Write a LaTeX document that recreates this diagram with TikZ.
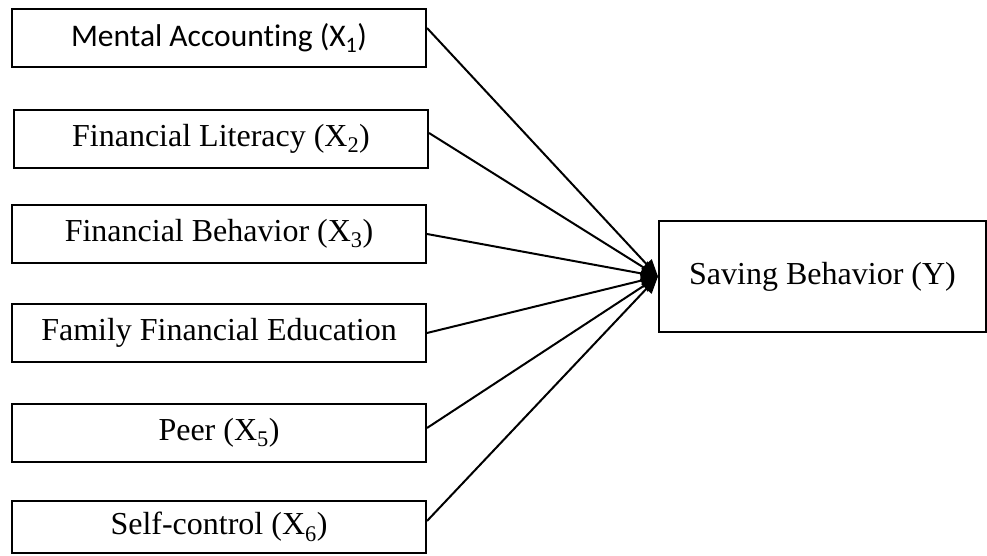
\documentclass[tikz,border=0pt]{standalone}
\usepackage{fontspec}
\setmainfont{Liberation Serif}
\newfontfamily\calib[Ligatures=NoCommon]{Carlito}
\usetikzlibrary{arrows.meta}
\begin{document}
\begin{tikzpicture}[x=1pt,y=1pt,
  box/.style={draw,line width=2pt,minimum width=414pt,minimum height=58pt,inner sep=0pt,font=\fontsize{32}{36}\selectfont},
  arr/.style={line width=2pt,-{Triangle[length=17pt,width=14pt]}}]
\useasboundingbox (0,0) rectangle (987,556);
\node[box] (b1) at (219,518) {\calib\fontsize{31.5}{36}\selectfont Mental Accounting (X\textsubscript{1})};
\node[box] (b2) at (221,417) {Financial Literacy (X\textsubscript{2})};
\node[box] (b3) at (219,322) {Financial Behavior (X\textsubscript{3})};
\node[box] (b4) at (219,223) {Family Financial Education};
\node[box] (b5) at (219,123) {Peer (X\textsubscript{5})};
\node[box,minimum height=52pt] (b6) at (219,29) {Self-control (X\textsubscript{6})};
\node[box,minimum width=327pt,minimum height=111pt] (y) at (822.5,279.5) {Saving Behavior (Y)};
\draw[arr] ([yshift=10pt]b1.east) -- (y.west);
\draw[arr] ([yshift=6pt]b2.east) -- (y.west);
\draw[arr] (b3.east) -- (y.west);
\draw[arr] (b4.east) -- (y.west);
\draw[arr] ([yshift=5pt]b5.east) -- (y.west);
\draw[arr] ([yshift=6pt]b6.east) -- (y.west);
\end{tikzpicture}
\end{document}
